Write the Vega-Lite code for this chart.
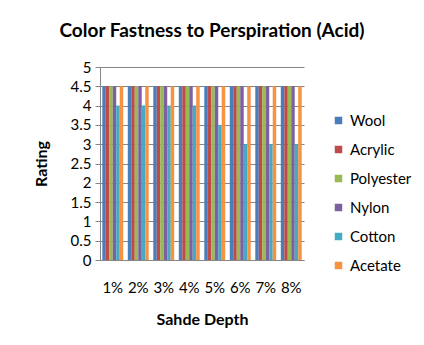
{
  "$schema": "https://vega.github.io/schema/vega-lite/v6.json",
  "width": 204,
  "height": 193,
  "autosize": {"type": "none"},
  "padding": {"left": 100, "top": 67, "right": 120, "bottom": 85},
  "background": "white",
  "title": {
    "text": "Color Fastness to Perspiration (Acid)",
    "font": "Lato",
    "fontSize": 19,
    "fontWeight": "bold",
    "color": "#000000",
    "anchor": "middle",
    "dx": 10,
    "offset": 19,
    "limit": 420
  },
  "data": {
    "values": [
      {"depth": "1%", "fiber": "Wool", "rating": 4.5},
      {"depth": "1%", "fiber": "Acrylic", "rating": 4.5},
      {"depth": "1%", "fiber": "Polyester", "rating": 4.5},
      {"depth": "1%", "fiber": "Nylon", "rating": 4.5},
      {"depth": "1%", "fiber": "Cotton", "rating": 4},
      {"depth": "1%", "fiber": "Acetate", "rating": 4.5},
      {"depth": "2%", "fiber": "Wool", "rating": 4.5},
      {"depth": "2%", "fiber": "Acrylic", "rating": 4.5},
      {"depth": "2%", "fiber": "Polyester", "rating": 4.5},
      {"depth": "2%", "fiber": "Nylon", "rating": 4.5},
      {"depth": "2%", "fiber": "Cotton", "rating": 4},
      {"depth": "2%", "fiber": "Acetate", "rating": 4.5},
      {"depth": "3%", "fiber": "Wool", "rating": 4.5},
      {"depth": "3%", "fiber": "Acrylic", "rating": 4.5},
      {"depth": "3%", "fiber": "Polyester", "rating": 4.5},
      {"depth": "3%", "fiber": "Nylon", "rating": 4.5},
      {"depth": "3%", "fiber": "Cotton", "rating": 4},
      {"depth": "3%", "fiber": "Acetate", "rating": 4.5},
      {"depth": "4%", "fiber": "Wool", "rating": 4.5},
      {"depth": "4%", "fiber": "Acrylic", "rating": 4.5},
      {"depth": "4%", "fiber": "Polyester", "rating": 4.5},
      {"depth": "4%", "fiber": "Nylon", "rating": 4.5},
      {"depth": "4%", "fiber": "Cotton", "rating": 4},
      {"depth": "4%", "fiber": "Acetate", "rating": 4.5},
      {"depth": "5%", "fiber": "Wool", "rating": 4.5},
      {"depth": "5%", "fiber": "Acrylic", "rating": 4.5},
      {"depth": "5%", "fiber": "Polyester", "rating": 4.5},
      {"depth": "5%", "fiber": "Nylon", "rating": 4.5},
      {"depth": "5%", "fiber": "Cotton", "rating": 3.5},
      {"depth": "5%", "fiber": "Acetate", "rating": 4.5},
      {"depth": "6%", "fiber": "Wool", "rating": 4.5},
      {"depth": "6%", "fiber": "Acrylic", "rating": 4.5},
      {"depth": "6%", "fiber": "Polyester", "rating": 4.5},
      {"depth": "6%", "fiber": "Nylon", "rating": 4.5},
      {"depth": "6%", "fiber": "Cotton", "rating": 3},
      {"depth": "6%", "fiber": "Acetate", "rating": 4.5},
      {"depth": "7%", "fiber": "Wool", "rating": 4.5},
      {"depth": "7%", "fiber": "Acrylic", "rating": 4.5},
      {"depth": "7%", "fiber": "Polyester", "rating": 4.5},
      {"depth": "7%", "fiber": "Nylon", "rating": 4.5},
      {"depth": "7%", "fiber": "Cotton", "rating": 3},
      {"depth": "7%", "fiber": "Acetate", "rating": 4.5},
      {"depth": "8%", "fiber": "Wool", "rating": 4.5},
      {"depth": "8%", "fiber": "Acrylic", "rating": 4.5},
      {"depth": "8%", "fiber": "Polyester", "rating": 4.5},
      {"depth": "8%", "fiber": "Nylon", "rating": 4.5},
      {"depth": "8%", "fiber": "Cotton", "rating": 3},
      {"depth": "8%", "fiber": "Acetate", "rating": 4.5}
    ]
  },
  "mark": {"type": "bar"},
  "encoding": {
    "x": {
      "field": "depth",
      "type": "nominal",
      "scale": {"paddingInner": 0.18, "paddingOuter": 0.09},
      "axis": {
        "title": "Sahde Depth",
        "labelAngle": 0,
        "ticks": false,
        "domainColor": "#868686",
        "labelPadding": 20,
        "titlePadding": 16
      }
    },
    "xOffset": {
      "field": "fiber",
      "type": "nominal",
      "sort": ["Wool", "Acrylic", "Polyester", "Nylon", "Cotton", "Acetate"],
      "scale": {"paddingInner": 0, "paddingOuter": 0}
    },
    "y": {
      "field": "rating",
      "type": "quantitative",
      "scale": {"domain": [0, 5]},
      "axis": {
        "title": "Rating",
        "values": [0, 0.5, 1, 1.5, 2, 2.5, 3, 3.5, 4, 4.5, 5],
        "format": "~g",
        "tickSize": 5,
        "tickColor": "#868686",
        "domainColor": "#868686",
        "gridColor": "#868686",
        "labelPadding": 4,
        "titlePadding": 21
      }
    },
    "color": {
      "field": "fiber",
      "type": "nominal",
      "sort": ["Wool", "Acrylic", "Polyester", "Nylon", "Cotton", "Acetate"],
      "scale": {
        "domain": ["Wool", "Acrylic", "Polyester", "Nylon", "Cotton", "Acetate"],
        "range": ["#4A7EBB", "#BE4B48", "#98B954", "#7D60A0", "#46AAC5", "#F69240"]
      },
      "legend": {
        "title": null,
        "orient": "none",
        "legendX": 231,
        "legendY": 46,
        "symbolType": "square",
        "symbolSize": 56,
        "symbolStrokeWidth": 0,
        "rowPadding": 13,
        "labelOffset": 4
      }
    }
  },
  "config": {
    "font": "Lato",
    "view": {"stroke": null},
    "axis": {
      "labelFont": "Lato",
      "labelFontSize": 15,
      "labelColor": "#000000",
      "titleFont": "Lato",
      "titleFontSize": 16,
      "titleFontWeight": "bold",
      "titleColor": "#000000",
      "gridOpacity": 1
    },
    "axisX": {"grid": false},
    "legend": {
      "labelFont": "Lato",
      "labelFontSize": 15,
      "labelColor": "#000000"
    }
  }
}
